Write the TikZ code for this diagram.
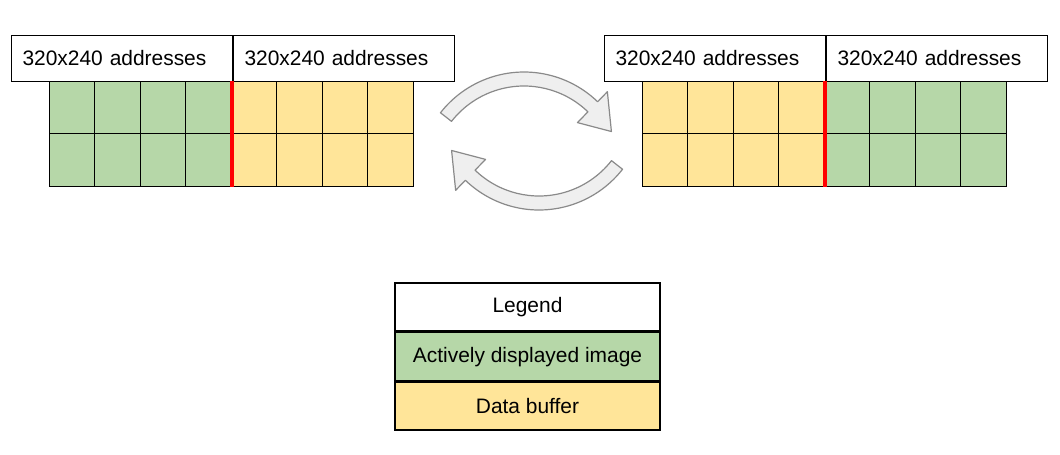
\documentclass[tikz,border=0pt]{standalone}
\usepackage{fontspec}
\setmainfont{Liberation Sans}
\usepackage{tikz}
\usetikzlibrary{positioning,calc}
\definecolor{activegreen}{HTML}{B6D7A8}
\definecolor{bufferyellow}{HTML}{FFE599}
\definecolor{swapfill}{HTML}{EFEFEF}
\definecolor{swapline}{HTML}{8A8A8A}

\begin{document}
\begin{tikzpicture}[x=0.75pt,y=-0.75pt,
    every node/.style={font=\fontsize{15.7}{19}\selectfont},
    addr/.style={draw,line width=0.75pt,anchor=north west,minimum height=34.5pt,
        text width=149.25pt,inner xsep=8.25pt,align=left},
    cell/.style={draw,line width=0.75pt,minimum width=34.125pt,minimum height=39.375pt,
        inner sep=0pt},
    key/.style={draw,line width=1.2pt,minimum width=198.75pt,minimum height=36pt},
    divider/.style={red,line width=3pt},
    swap/.style={fill=swapfill,draw=swapline,line width=0.9pt,line join=round}]
   \useasboundingbox (0,0) rectangle (1060,454);

   % left frame: green is shown, yellow is filled
   \node[addr] (la) at (11,35) {320x240 addresses};
   \node[addr] (lb) [right=0pt of la] {320x240 addresses};
   \foreach \i in {0,...,7}
     \foreach \j in {0,1}{
       \ifnum\i<4 \def\cellcol{activegreen}\else\def\cellcol{bufferyellow}\fi
       \node[cell,fill=\cellcol] (l\i\j) at ({49+45.5*(\i+0.5)},{107.25+52.5*\j}) {};
     }
   \draw[divider] (l30.north east) -- (l31.south east);

   % right frame: roles swapped
   \node[addr] (ra) at (604,35) {320x240 addresses};
   \node[addr] (rb) [right=0pt of ra] {320x240 addresses};
   \foreach \i in {0,...,7}
     \foreach \j in {0,1}{
       \ifnum\i<4 \def\cellcol{bufferyellow}\else\def\cellcol{activegreen}\fi
       \node[cell,fill=\cellcol] (r\i\j) at ({642+45.5*(\i+0.5)},{107.25+52.5*\j}) {};
     }
   \draw[divider] (r30.north east) -- (r31.south east);

   % swap arrows
   \coordinate (c1) at (524,178);
   \coordinate (c2) at (539,104);
   \path[swap] ($(c1)+(-142:106)$) arc[start angle=-142,end angle=-46,radius=106]
      -- ($(c1)+(-46:120)$) -- ($(c1)+(-28:99)$) -- ($(c1)+(-46:77)$)
      -- ($(c1)+(-46:92)$) arc[start angle=-46,end angle=-142,radius=92] -- cycle;
   \path[swap] ($(c2)+(38:106)$) arc[start angle=38,end angle=134,radius=106]
      -- ($(c2)+(134:120)$) -- ($(c2)+(152:99)$) -- ($(c2)+(134:77)$)
      -- ($(c2)+(134:92)$) arc[start angle=134,end angle=38,radius=92] -- cycle;

   % legend
   \node[key,fill=white] (legend) at (527.5,307) {Legend};
   \node[key,fill=activegreen] (shown) [below=0pt of legend] {Actively displayed image};
   \node[key,fill=bufferyellow] (buffer) [below=0pt of shown] {Data buffer};
\end{tikzpicture}
\end{document}
